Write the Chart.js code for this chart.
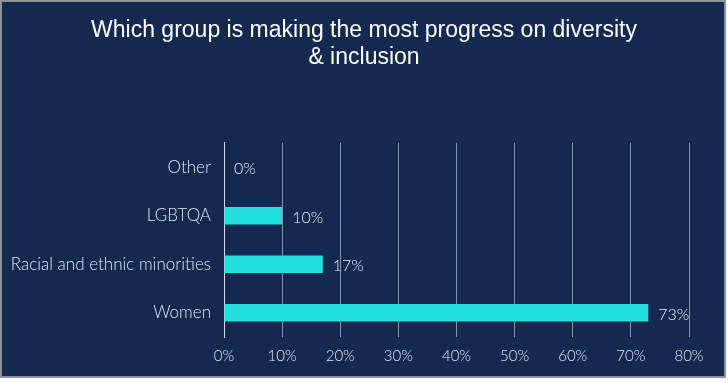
<!DOCTYPE html>
<html>
<head>
<meta charset="utf-8">
<script src="https://cdn.jsdelivr.net/npm/chart.js@4"></script>
<style>
  html, body { margin: 0; padding: 0; background: #ffffff; }
  #frame {
    position: absolute; left: 0; top: 0;
    width: 722px; height: 374px;
    background: #13294f;
    border: 2px solid #8d929b;
  }
  #wrap { position: absolute; left: 0; top: 0; width: 728px; height: 383px; }
</style>
</head>
<body>
<div id="frame"></div>
<div id="wrap"><canvas id="chart" width="728" height="383"></canvas></div>
<script>
/* Which group is making the most progress on D&I */

const categories = ['Other', 'LGBTQA', 'Racial and ethnic minorities', 'Women'];
const shares = [0, 10, 17, 73];
const tickValues = [0, 10, 20, 30, 40, 50, 60, 70, 80];

const LABEL_FONT = { family: 'Lato', size: 17, weight: '300' };

// draws the "73%" style labels next to each bar
const valueLabels = {
  id: 'valueLabels',
  afterDatasetsDraw(chart) {
    const { ctx } = chart;
    const meta = chart.getDatasetMeta(0);
    ctx.save();
    ctx.font = '300 16px Lato';
    ctx.fillStyle = '#e9edf3';
    ctx.textBaseline = 'middle';
    meta.data.forEach((bar, i) => {
      ctx.fillText(shares[i] + '%', bar.x + 10, bar.y + 2);
    });
    ctx.restore();
  }
};

// keep the title centred on the whole frame, not the padded area
const centreTitle = {
  id: 'centreTitle',
  afterLayout(chart) {
    if (chart.titleBlock) {
      chart.titleBlock.left = 0;
      chart.titleBlock.right = chart.width;
    }
  }
};

new Chart(document.getElementById('chart'), {
  type: 'bar',
  data: {
    labels: categories,
    datasets: [{
      data: shares,
      backgroundColor: '#22e0e0',
      borderWidth: 0,
      barPercentage: 0.36,
      categoryPercentage: 1
    }]
  },
  plugins: [valueLabels, centreTitle],
  options: {
    indexAxis: 'y',
    responsive: false,
    animation: false,
    layout: { padding: { left: 0, right: 39, top: 0, bottom: 0 } },
    plugins: {
      legend: { display: false },
      tooltip: { enabled: false },
      title: {
        display: true,
        text: ['Which group is making the most progress on diversity', '& inclusion'],
        color: '#ffffff',
        font: { family: 'Liberation Sans', size: 23, weight: 'normal', lineHeight: 1.17 },
        padding: { top: 17, bottom: 72 }
      }
    },
    scales: {
      x: {
        min: 0,
        max: 80,
        afterBuildTicks: (s) => { s.ticks = tickValues.map(v => ({ value: v })); },
        afterFit: (s) => { s.height = 46; },
        ticks: {
          color: '#e3e7ee',
          font: { family: 'Lato', size: 15, weight: '300' },
          padding: 10,
          callback: (v) => v + '%'
        },
        grid: { color: '#8b93a3', lineWidth: 1, drawTicks: false },
        border: { display: false }
      },
      y: {
        afterFit: (s) => { s.width = 224; },
        ticks: {
          color: '#e3e7ee',
          font: LABEL_FONT,
          padding: 13
        },
        grid: { display: false, drawTicks: false },
        border: { display: true, color: '#d7dbe3', width: 1 }
      }
    }
  }
});
</script>
</body>
</html>
